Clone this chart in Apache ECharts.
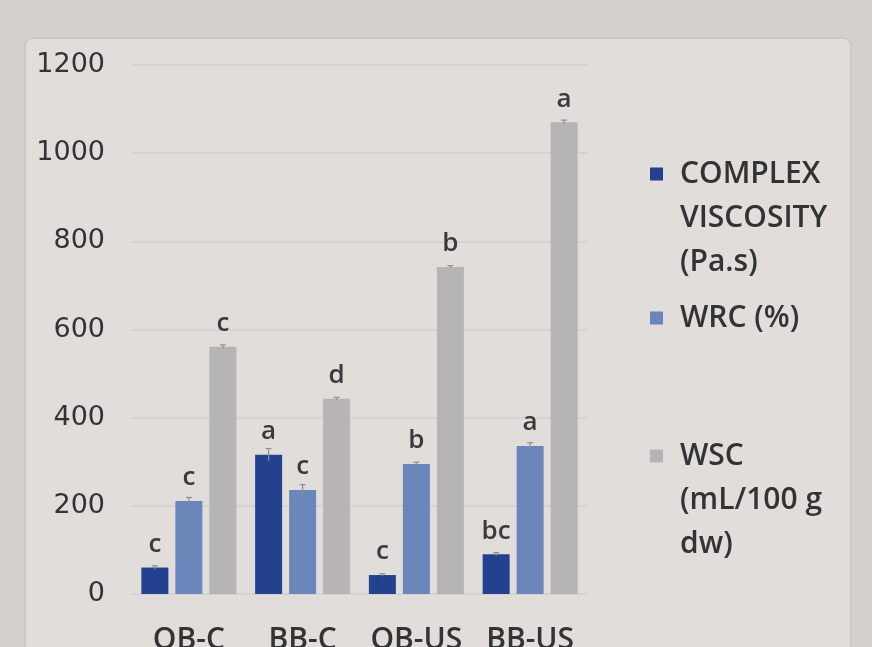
<!DOCTYPE html>
<html><head><meta charset="utf-8">
<script src="https://cdn.jsdelivr.net/npm/echarts@6/dist/echarts.min.js"></script>
<style>html,body{margin:0;padding:0;background:#d4d0cd}#c{width:872px;height:647px}</style>
</head><body><div id="c"></div>
<script>
const categories = ['OB-C', 'BB-C', 'OB-US', 'BB-US'];
const seriesNames = ['COMPLEX\nVISCOSITY\n(Pa.s)', 'WRC (%)', 'WSC\n(mL/100 g\ndw)'];
const viscosity = [60, 316, 43, 90];
const wrc = [211, 236, 295, 336];
const wsc = [561, 443, 742, 1070];
const viscosityErr = [4, 14, 3, 4];
const wrcErr = [8, 12, 4, 7];
const wscErr = [4, 3, 3, 5];
const viscosityLetters = ['c', 'a', 'c', 'bc'];
const wrcLetters = ['c', 'c', 'b', 'a'];
const wscLetters = ['c', 'd', 'b', 'a'];
const yTicks = [0, 200, 400, 600, 800, 1000, 1200];

const colors = ['#23418f', '#6a86bb', '#b6b5b4'];
const values = [viscosity, wrc, wsc];
const errs = [viscosityErr, wrcErr, wscErr];
const letters = [viscosityLetters, wrcLetters, wscLetters];
const barW = 27, barGapPx = 7;

const chart = echarts.init(document.getElementById('c'));
const font = 'Open Sans';
const series = [];
values.forEach((vals, i) => {
  series.push({
    name: seriesNames[i], type: 'bar', data: vals, barWidth: barW, barGap: (barGapPx / barW * 100) + '%',
    itemStyle: { color: colors[i] },
    label: { show: true, position: 'top', distance: 10, color: '#3a3a3a', fontFamily: font, fontSize: 26, fontWeight: 600,
      formatter: p => letters[i][p.dataIndex] }
  });
});
values.forEach((vals, i) => {
  series.push({
    type: 'custom', silent: true, z: 5,
    data: vals.map((v, k) => [k, v, errs[i][k]]),
    renderItem: (params, api) => {
      const k = api.value(0), v = api.value(1), e = api.value(2);
      const off = (i - 1) * (barW + barGapPx);
      const top = api.coord([k, v + e]);
      const bot = api.coord([k, v - e]);
      const x = top[0] + off;
      const st = { stroke: '#8a8f99', lineWidth: 1.2 };
      return { type: 'group', children: [
        { type: 'line', shape: { x1: x, y1: top[1], x2: x, y2: bot[1] }, style: st },
        { type: 'line', shape: { x1: x - 3, y1: top[1], x2: x + 3, y2: top[1] }, style: st }
      ]};
    }
  });
});

const LH = 44, ICON_W = 30, SQ = 13;
function legendFor(i, top) {
  const n = seriesNames[i].split('\n').length;
  const h = n * LH;
  const y0 = LH / 2 - SQ / 2;
  const path = 'path://M5,' + y0 + 'H' + (5 + SQ) + 'V' + (y0 + SQ) + 'H5Z' +
    'M0,0H0.01V0.01H0Z' + 'M' + ICON_W + ',' + h + 'H' + (ICON_W - 0.01) + 'V' + (h - 0.01) + 'Z';
  return { orient: 'vertical', left: 640, top: top, itemWidth: ICON_W, itemHeight: h, icon: path, itemGap: 0,
    data: [seriesNames[i]],
    textStyle: { fontFamily: font, fontSize: 30, fontWeight: 600, color: '#333', lineHeight: LH } };
}

chart.setOption({
  backgroundColor: '#d4d0cd',
  animation: false,
  graphic: [{ type: 'rect', z: -10, shape: { x: 25, y: 38, width: 826, height: 640, r: 8 },
    style: { fill: '#e0dddb', stroke: '#c9c5c2', lineWidth: 1.5 } }],
  color: colors,
  legend: [legendFor(0, 147), legendFor(1, 291), legendFor(2, 429)],
  grid: { left: 132, right: 285, top: 65, bottom: 53, containLabel: false, outerBoundsMode: 'none' },
  xAxis: { type: 'category', data: categories, axisLine: { show: false }, axisTick: { show: false },
    axisLabel: { interval: 0, hideOverlap: false, margin: 31, color: '#333', fontFamily: font, fontSize: 30, fontWeight: 600 } },
  yAxis: { type: 'value', min: yTicks[0], max: yTicks[yTicks.length - 1], interval: 200,
    axisLine: { show: false }, axisTick: { show: false },
    splitLine: { lineStyle: { color: '#d2cfcc', width: 1.5 } },
    axisLabel: { margin: 27, color: '#333', fontFamily: 'DejaVu Sans', fontSize: 27, formatter: v => String(v) } },
  series: series
});
</script></body></html>
